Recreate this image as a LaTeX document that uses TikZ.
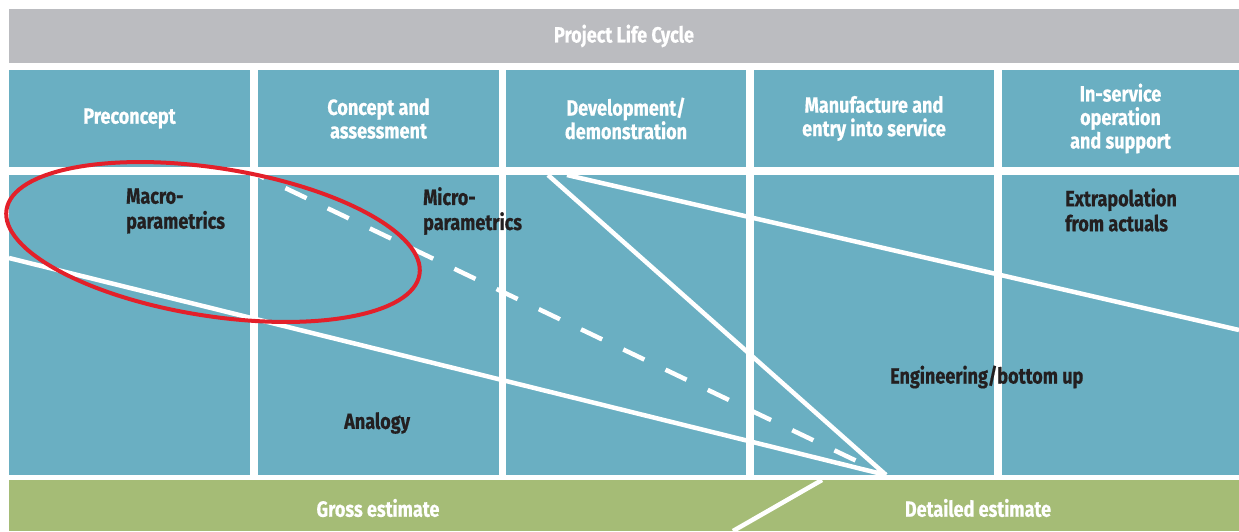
\documentclass[tikz,border=0pt]{standalone}
\usepackage{fontspec}
\setmainfont{Fira Sans}[FakeStretch=0.82, BoldFeatures={FakeBold=0.6}]
\definecolor{lcgray}{HTML}{BBBCC0}
\definecolor{lcblue}{HTML}{6AAFC2}
\definecolor{lcgreen}{HTML}{A5BC76}
\definecolor{lcred}{HTML}{E3202A}
\definecolor{lctext}{HTML}{231F20}
\begin{document}
\begin{tikzpicture}[x=1pt,y=-1pt,
  box/.style={draw=none, inner sep=0pt, outer sep=0pt, anchor=north west, text=white,
    font=\bfseries\fontsize{22}{23.5}\selectfont, align=center},
  cellbox/.style={box, fill=lcblue},
  wlbl/.style={inner sep=0pt, text=white, font=\bfseries\fontsize{22}{23.5}\selectfont},
  lbl/.style={inner sep=0pt, anchor=west, align=left, text=lctext,
    font=\bfseries\fontsize{22}{25}\selectfont},
  wline/.style={white, line width=4.5pt},
  ]
\useasboundingbox (0,0) rectangle (1239,531);
% title bar
\node[box, fill=lcgray, minimum width=1230pt, minimum height=54pt] (plc) at (9,9) {\raisebox{-1pt}{Project Life Cycle}};
% header row
\node[cellbox, minimum width=241pt, minimum height=97pt] (h1) at (9,70) {\raisebox{-2.5pt}{Preconcept}};
\node[cellbox, minimum width=241pt, minimum height=97pt] (h2) at (258,70) {Concept and\\assessment};
\node[cellbox, minimum width=240pt, minimum height=97pt] (h3) at (506,70) {Development/\\demonstration};
\node[cellbox, minimum width=240pt, minimum height=97pt] (h4) at (754,70) {Manufacture and\\entry into service};
\node[cellbox, minimum width=237pt, minimum height=97pt] (h5) at (1002,70) {In-service\\operation\\and support};
% body row
\node[cellbox, minimum width=241pt, minimum height=300pt] (b1) at (9,175) {};
\node[cellbox, minimum width=241pt, minimum height=300pt] (b2) at (258,175) {};
\node[cellbox, minimum width=240pt, minimum height=300pt] (b3) at (506,175) {};
\node[cellbox, minimum width=240pt, minimum height=300pt] (b4) at (754,175) {};
\node[cellbox, minimum width=237pt, minimum height=300pt] (b5) at (1002,175) {};
% estimate bar
\node[box, fill=lcgreen, minimum width=1230pt, minimum height=51pt] (est) at (9,480) {};
% line end points
\coordinate (conv) at (886,475);
\coordinate (anaStart) at (9,258);
\coordinate (dashStart) at (258,175);
\coordinate (steepStart) at (548,175);
\coordinate (extStart) at (567,175);
\coordinate (extEnd) at (1239,330);
\coordinate (gTop) at (822,480);
\coordinate (gBot) at (733,531);
% white lines
\draw[wline] (anaStart) -- (conv);
\draw[wline, dash pattern=on 23.4pt off 23.4pt, dash phase=16.4pt] (dashStart) -- (conv);
\draw[wline] (steepStart) -- (conv);
\draw[wline] (extStart) -- (extEnd);
\draw[wline] (gTop) -- (gBot);
% labels
\node[lbl] (macro) at (126,211) {Macro-\\parametrics};
\node[lbl] (micro) at (423,211) {Micro-\\parametrics};
\node[lbl] (extra) at (1065,210) {Extrapolation\\from actuals};
\node[lbl] (eng) at (890,377) {Engineering/bottom up};
\node[lbl] (ana) at (344,423) {Analogy};
\node[wlbl] (gross) at (378,508) {Gross estimate};
\node[wlbl] (detail) at (978,508) {Detailed estimate};
% red ellipse
\draw[lcred, line width=4pt, rotate around={-8.9:(213,242)}] (213,242) ellipse [x radius=209, y radius=74];
\end{tikzpicture}
\end{document}
